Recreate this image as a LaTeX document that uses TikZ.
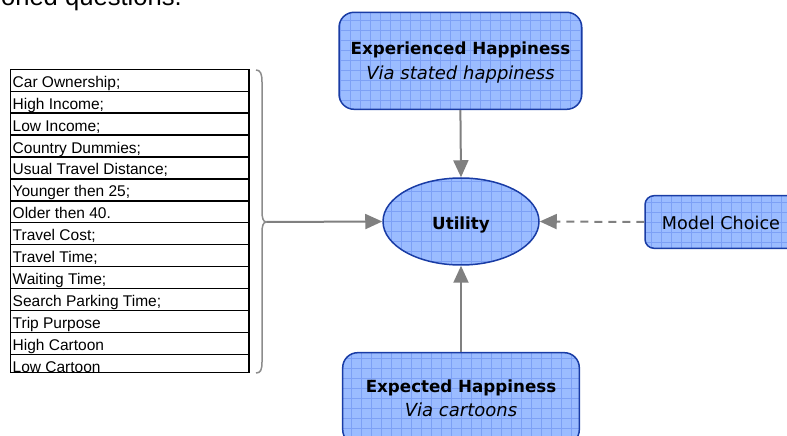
\documentclass[tikz,border=0pt]{standalone}
\usepackage{fontspec}
\setmainfont{DejaVu Sans}
\newfontfamily\arialf{Liberation Sans}
\usetikzlibrary{shapes.geometric,arrows.meta}
\definecolor{boxfill}{RGB}{155,188,255}
\definecolor{gridc}{RGB}{125,160,245}
\definecolor{boxline}{RGB}{25,60,165}
\definecolor{arrowc}{RGB}{128,128,128}
\definecolor{bracec}{RGB}{140,140,140}
\tikzset{
  patt/.style={fill=boxfill, draw=boxline, line width=1.5bp,
    path picture={\draw[gridc,line width=0.7bp,xstep=10bp,ystep=10bp]
      (path picture bounding box.south west) grid (path picture bounding box.north east);}},
  bigbox/.style={patt, rectangle, rounded corners=15bp, inner sep=0pt},
  smallbox/.style={patt, rectangle, rounded corners=9bp, inner sep=0pt},
  ellbox/.style={patt, ellipse, inner sep=0pt, minimum width=156bp, minimum height=87bp},
  boldtxt/.style={anchor=base, font=\fontsize{16.7bp}{20bp}\selectfont\bfseries, inner sep=0pt},
  itxt/.style={anchor=base, font=\fontsize{18bp}{20bp}\selectfont\itshape, inner sep=0pt},
  regtxt/.style={anchor=base, font=\fontsize{17.6bp}{20bp}\selectfont, inner sep=0pt},
  rowtxt/.style={anchor=base west, font=\arialf\fontsize{15.5bp}{18bp}\selectfont, inner sep=0pt},
  arr/.style={draw=arrowc, line width=2bp, -{Triangle[length=17bp,width=15bp]}},
  darr/.style={arr, dash pattern=on 8bp off 6bp},
  tabline/.style={draw=black, line width=1.4bp},
}
\begin{document}
\begin{tikzpicture}[x=1bp,y=-1bp]
\useasboundingbox (0,0) rectangle (787,436);
% top cut text
\node[anchor=base east, inner sep=0pt, font=\arialf\fontsize{25.6bp}{30bp}\selectfont] (toptxt) at (182,6) {oned questions.};
% table
\begin{scope}
  \clip (10.3,69.3) rectangle (249,372.7);
  \foreach \t [count=\i from 0] in {{Car Ownership;},{High Income;},{Low Income;},{Country Dummies;},{Usual Travel Distance;},{Younger then 25;},{Older then 40.},{Travel Cost;},{Travel Time;},{Waiting Time;},{Search Parking Time;},{Trip Purpose},{High Cartoon},{Low Cartoon}}
    \node[rowtxt] (row\i) at (12.5,{69.3+21.92*\i+18}) {\t};
\end{scope}
\foreach \i in {1,...,13}
  \draw[tabline] (10.3,{69.3+21.92*\i}) -- (249,{69.3+21.92*\i});
\draw[tabline] (10.3,69.3) rectangle (249,372.7);
% brace
\coordinate (bt) at (256,70);
\coordinate (tip) at (266.5,222);
\coordinate (bb) at (256,373);
\draw[bracec, line width=1.5bp] (bt) .. controls (260.5,70) and (262,74) .. (262,82) -- (262,211)
  .. controls (262,218) and (263,222) .. (tip)
  .. controls (263,222) and (262,226) .. (262,233) -- (262,362)
  .. controls (262,370) and (260.5,373) .. (bb);
% nodes
\node[bigbox, minimum width=242.7bp, minimum height=97bp] (exp) at (460.4,60.8) {};
\node[boldtxt] (expt1) at (460.5,55) {Experienced Happiness};
\node[itxt] (expt2) at (460.5,80) {Via stated happiness};
\node[ellbox] (util) at (461,221.5) {};
\node[boldtxt] (utilt) at (461,230) {Utility};
\node[smallbox, minimum width=152bp, minimum height=52.6bp] (model) at (721,222) {};
\node[regtxt] (modelt) at (721,230) {Model Choice};
\node[bigbox, minimum width=236.6bp, minimum height=92bp] (expd) at (461,398.7) {};
\node[boldtxt] (expdt1) at (461,392.3) {Expected Happiness};
\node[itxt] (expdt2) at (461,416.7) {Via cartoons};
% connectors
\draw[arr] (exp.south) -- (util.north);
\draw[arr] (expd.north) -- (util.south);
\draw[arr] (tip) -- (util.west);
\draw[darr] (model.west) -- (util.east);
\end{tikzpicture}
\end{document}
